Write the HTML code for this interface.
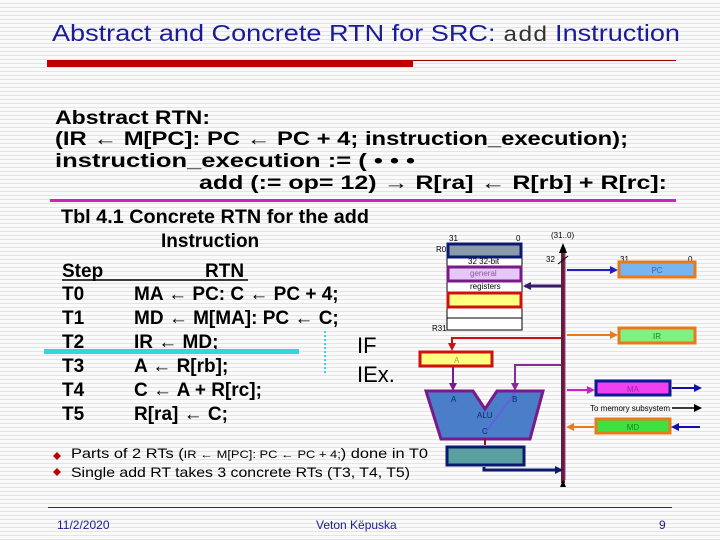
<!DOCTYPE html>
<html><head><meta charset="utf-8"><style>
html,body{margin:0;padding:0;background:#fff}
svg{display:block}
</style></head><body>
<svg width="720" height="540" viewBox="0 0 720 540" xmlns="http://www.w3.org/2000/svg" font-family="Liberation Sans, sans-serif">
<defs>
<pattern id="st" width="4" height="4" patternUnits="userSpaceOnUse"><rect width="4" height="4" fill="#fafafa"/><rect y="3" width="4" height="1" fill="#e4e4e4"/></pattern>
<marker id="ah" markerWidth="8" markerHeight="8" refX="6" refY="4" orient="auto" markerUnits="userSpaceOnUse"><path d="M0,0 L8,4 L0,8 z" fill="context-stroke"/></marker>
</defs>
<rect width="720" height="540" fill="url(#st)"/>
<text x="52" y="41" font-size="23" fill="#1a1a9c" textLength="628" lengthAdjust="spacingAndGlyphs">Abstract and Concrete RTN for SRC: <tspan font-family="Liberation Mono, monospace" font-size="21" fill="#333">add</tspan> Instruction</text>
<rect x="47" y="60" width="366" height="7" fill="#c00000"/>
<line x1="413" y1="60.5" x2="676" y2="60.5" stroke="#a00000" stroke-width="1"/>
<g font-weight="bold" font-size="19" fill="#000">
<text x="55" y="124" textLength="155" lengthAdjust="spacingAndGlyphs">Abstract RTN:</text>
<text x="55" y="145" textLength="573" lengthAdjust="spacingAndGlyphs">(IR ← M[PC]: PC ← PC + 4; instruction_execution);</text>
<text x="55" y="167" textLength="360" lengthAdjust="spacingAndGlyphs">instruction_execution := ( • • •</text>
<text x="199" y="189" textLength="468" lengthAdjust="spacingAndGlyphs">add (:= op= 12) → R[ra] ← R[rb] + R[rc]:</text>
</g>
<rect x="50" y="199" width="626" height="3" fill="#d020c0"/>
<g font-weight="bold" font-size="19" fill="#000">
<text x="61" y="223" textLength="308" lengthAdjust="spacingAndGlyphs">Tbl 4.1 Concrete RTN for the add</text>
<text x="161" y="247">Instruction</text>
<text x="62" y="277">Step</text><text x="205" y="277">RTN</text>
<line x1="62" y1="280" x2="248" y2="280" stroke="#000" stroke-width="1.5"/>
<text x="62" y="300">T0</text><text x="134" y="300">MA ← PC: C ← PC + 4;</text>
<text x="62" y="324">T1</text><text x="134" y="324">MD ← M[MA]: PC ← C;</text>
<text x="62" y="348">T2</text><text x="134" y="348">IR ← MD;</text>
<text x="62" y="372">T3</text><text x="134" y="372">A ← R[rb];</text>
<text x="62" y="396">T4</text><text x="134" y="396">C ← A + R[rc];</text>
<text x="62" y="420">T5</text><text x="134" y="420">R[ra] ← C;</text>
</g>
<text x="357" y="353" font-size="22" font-weight="normal">IF</text>
<text x="357" y="382" font-size="22" font-weight="normal">IEx.</text>
<rect x="44" y="349" width="255" height="5" fill="#33d6e0"/>
<line x1="325" y1="331" x2="325" y2="373" stroke="#33d6e0" stroke-width="2" stroke-dasharray="2,2"/>
<!-- register file -->
<rect x="447" y="243" width="75" height="87" fill="#fff" stroke="#000"/>
<rect x="448" y="244" width="73" height="13" fill="#8a9aa8" stroke="#0a1a70" stroke-width="3"/>
<rect x="448" y="267" width="73" height="14" fill="#e6c8f8" stroke="#7a1a8a" stroke-width="3"/>
<rect x="448" y="293" width="73" height="14" fill="#ffff80" stroke="#d01010" stroke-width="3"/>
<line x1="447" y1="318" x2="522" y2="318" stroke="#000"/>
<g font-size="8" fill="#000">
<text x="449" y="241">31</text><text x="516" y="241">0</text>
<text x="436" y="252">R0</text>
<text x="468" y="264">32 32-bit</text>
<text x="470" y="276" fill="#8a5a9a">general</text>
<text x="470" y="289">registers</text>
<text x="432" y="331">R31</text>
<text x="551" y="238">(31..0)</text>
<text x="546" y="262">32</text>
<text x="620" y="262">31</text><text x="688" y="262">0</text>
<text x="590" y="411">To memory subsystem</text>
</g>
<!-- bus -->
<line x1="563" y1="483" x2="563" y2="250" stroke="#6a1a3a" stroke-width="4"/>
<line x1="565" y1="480" x2="565" y2="248" stroke="#8a3a8a" stroke-width="1"/>
<path d="M559,253 L563,243 L567,253 z" fill="#000"/>
<path d="M560,487 L563,480 L566,487 z" fill="#000"/>
<line x1="558" y1="264" x2="568" y2="256" stroke="#000"/>
<!-- PC -->
<line x1="567" y1="270" x2="616" y2="270" stroke="#2020c0" stroke-width="2" marker-end="url(#ah)"/>
<rect x="619" y="262" width="76" height="15" fill="#78b4f0" stroke="#e87a1a" stroke-width="3"/>
<text x="657" y="273" font-size="8" text-anchor="middle" fill="#4060a0">PC</text>
<line x1="561" y1="286" x2="525" y2="286" stroke="#3a1a6a" stroke-width="3" marker-end="url(#ah)"/>
<!-- IR -->
<line x1="567" y1="335" x2="616" y2="335" stroke="#e87a1a" stroke-width="2" marker-end="url(#ah)"/>
<rect x="619" y="328" width="76" height="15" fill="#80f080" stroke="#e87a1a" stroke-width="3"/>
<text x="657" y="339" font-size="8" text-anchor="middle" fill="#208020">IR</text>
<!-- A -->
<polyline points="561,338 452,338 452,349" fill="none" stroke="#d01010" stroke-width="2" marker-end="url(#ah)"/>
<rect x="420" y="352" width="72" height="14" fill="#ffff80" stroke="#d01010" stroke-width="3"/>
<text x="454" y="363" font-size="8" fill="#a0a040">A</text>
<line x1="453" y1="367" x2="453" y2="389" stroke="#7a1a8a" stroke-width="2" marker-end="url(#ah)"/>
<polyline points="561,365 515,365 515,389" fill="none" stroke="#8a2a9a" stroke-width="2" marker-end="url(#ah)"/>
<!-- ALU -->
<polygon points="426,391 473,391 485,409 497,391 543,391 530,439 441,439" fill="#4a7ec8" stroke="#7a1a8a" stroke-width="3"/>
<line x1="515" y1="393" x2="485" y2="433" stroke="#6060e0" stroke-width="2"/>
<g font-size="8" fill="#0a2a70"><text x="451" y="402">A</text><text x="512" y="402">B</text><text x="477" y="418">ALU</text><text x="482" y="434">C</text></g>
<line x1="485" y1="439" x2="485" y2="445" stroke="#a01010" stroke-width="2"/>
<rect x="447" y="447" width="77" height="18" fill="#5aa0a0" stroke="#0a1a70" stroke-width="3"/>
<polyline points="484,467 484,470 561,470" fill="none" stroke="#0a1a70" stroke-width="3" marker-end="url(#ah)"/>
<!-- MA -->
<line x1="567" y1="390" x2="593" y2="390" stroke="#d020c0" stroke-width="2" marker-end="url(#ah)"/>
<rect x="596" y="381" width="74" height="14" fill="#f040f0" stroke="#0a1a90" stroke-width="3"/>
<text x="633" y="392" font-size="8" text-anchor="middle" fill="#a020a0">MA</text>
<line x1="672" y1="388" x2="700" y2="388" stroke="#1010b0" stroke-width="2" marker-end="url(#ah)"/>
<line x1="672" y1="408" x2="700" y2="408" stroke="#000" stroke-width="1.5" marker-end="url(#ah)"/>
<!-- MD -->
<line x1="594" y1="427" x2="568" y2="427" stroke="#e87a1a" stroke-width="2" marker-end="url(#ah)"/>
<rect x="596" y="419" width="74" height="14" fill="#40e040" stroke="#e87a1a" stroke-width="3"/>
<text x="633" y="430" font-size="8" text-anchor="middle" fill="#208020">MD</text>
<line x1="700" y1="427" x2="673" y2="427" stroke="#1010b0" stroke-width="2" marker-end="url(#ah)"/>
<!-- bullets -->
<g font-size="14" fill="#000">
<path d="M57,452 L61,456 L57,460 L53,456 z" fill="#c00000"/>
<path d="M57,468 L61,472 L57,476 L53,472 z" fill="#c00000"/>
<text x="71" y="458" textLength="357" lengthAdjust="spacingAndGlyphs">Parts of 2 RTs (<tspan font-size="11">IR ← M[PC]: PC ← PC + 4;</tspan>) done in T0</text>
<text x="71" y="477" textLength="339" lengthAdjust="spacingAndGlyphs">Single add RT takes 3 concrete RTs (T3, T4, T5)</text>
</g>
<line x1="48" y1="507.5" x2="672" y2="507.5" stroke="#a00000"/>
<g font-size="12" fill="#1a1a9c">
<text x="57" y="529">11/2/2020</text>
<text x="316" y="529">Veton Këpuska</text>
<text x="659" y="529">9</text>
</g>
</svg>
</body></html>
